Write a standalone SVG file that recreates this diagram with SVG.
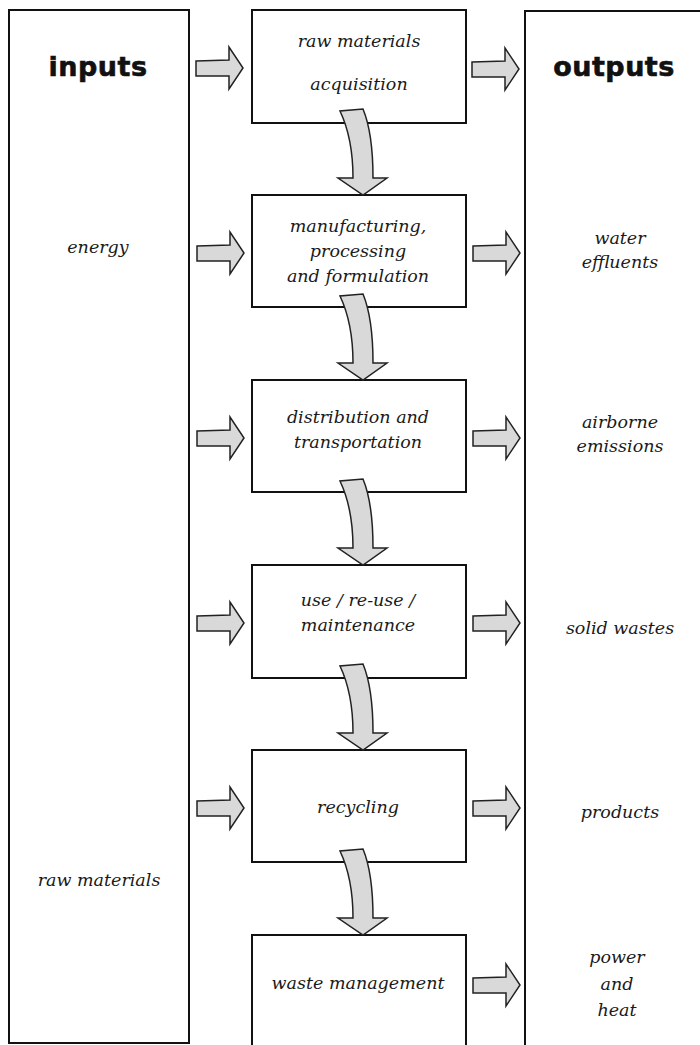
<svg xmlns="http://www.w3.org/2000/svg" width="700" height="1045" viewBox="0 0 700 1045">
<style>
.box{fill:#fff;stroke:#111;stroke-width:2}
.arr{fill:#d9d9d9;stroke:#222;stroke-width:1.5;stroke-linejoin:miter}
.it{font-family:"DejaVu Serif",serif;font-style:italic;font-size:17.5px;fill:#1a1a1a;text-anchor:middle}
.hd{font-family:"DejaVu Sans",sans-serif;font-weight:900;font-size:27px;fill:#111;stroke:#111;stroke-width:0.6;letter-spacing:0.5px;text-anchor:middle}
</style>
<defs>
<path id="ha" d="M0,-7 L33,-8 L33,-21 L47,0 L33,21 L33,8 L0,8 Z"/>
</defs>
<rect width="700" height="1045" fill="#fff"/>
<g id="inputs">
<rect class="box" x="9" y="10" width="180" height="1033"/>
<text class="hd" x="98" y="76">inputs</text>
<text class="it" x="98" y="253">energy</text>
<text class="it" x="99" y="886">raw materials</text>
</g>
<g id="outputs">
<rect class="box" x="525" y="11" width="200" height="1060"/>
<text class="hd" x="614" y="76">outputs</text>
<text class="it" x="620" y="244">water</text>
<text class="it" x="620" y="268">effluents</text>
<text class="it" x="620" y="428">airborne</text>
<text class="it" x="620" y="452">emissions</text>
<text class="it" x="620" y="634">solid wastes</text>
<text class="it" x="620" y="818">products</text>
<text class="it" x="617" y="963">power</text>
<text class="it" x="617" y="990">and</text>
<text class="it" x="617" y="1016">heat</text>
</g>
<g id="stage1">
<rect class="box" x="252" y="10" width="214" height="113"/>
<text class="it" x="359" y="47">raw materials</text>
<text class="it" x="359" y="90">acquisition</text>
</g>
<g id="stage2">
<rect class="box" x="252" y="195" width="214" height="112"/>
<text class="it" x="358" y="232">manufacturing,</text>
<text class="it" x="358" y="257">processing</text>
<text class="it" x="358" y="282">and formulation</text>
</g>
<g id="stage3">
<rect class="box" x="252" y="380" width="214" height="112"/>
<text class="it" x="358" y="423">distribution and</text>
<text class="it" x="358" y="448">transportation</text>
</g>
<g id="stage4">
<rect class="box" x="252" y="565" width="214" height="113"/>
<text class="it" x="358" y="606">use / re-use /</text>
<text class="it" x="358" y="631">maintenance</text>
</g>
<g id="stage5">
<rect class="box" x="252" y="750" width="214" height="112"/>
<text class="it" x="358" y="813">recycling</text>
</g>
<g id="stage6">
<rect class="box" x="252" y="935" width="214" height="130"/>
<text class="it" x="358" y="989">waste management</text>
</g>
<g id="connectors">
<use href="#ha" class="arr" x="196" y="68"/>
<use href="#ha" class="arr" x="472" y="69"/>
<use href="#ha" class="arr" x="197" y="253"/>
<use href="#ha" class="arr" x="473" y="253"/>
<use href="#ha" class="arr" x="197" y="438"/>
<use href="#ha" class="arr" x="473" y="438"/>
<use href="#ha" class="arr" x="197" y="623"/>
<use href="#ha" class="arr" x="473" y="623"/>
<use href="#ha" class="arr" x="197" y="808"/>
<use href="#ha" class="arr" x="473" y="808"/>
<use href="#ha" class="arr" x="473" y="985"/>
<g id="down">
<path class="arr" d="M340,111 C349,130 353,150 353,178 L338,178 L363,195 L387,178 L373,178 C373,148 370,126 363,109 Z"/>
<path class="arr" d="M340,296 C349,315 353,335 353,363 L338,363 L363,380 L387,363 L373,363 C373,333 370,311 363,294 Z"/>
<path class="arr" d="M340,481 C349,500 353,520 353,548 L338,548 L363,565 L387,548 L373,548 C373,518 370,496 363,479 Z"/>
<path class="arr" d="M340,666 C349,685 353,705 353,733 L338,733 L363,750 L387,733 L373,733 C373,703 370,681 363,664 Z"/>
<path class="arr" d="M340,851 C349,870 353,890 353,918 L338,918 L363,935 L387,918 L373,918 C373,888 370,866 363,849 Z"/>
</g>
</g>
</svg>
